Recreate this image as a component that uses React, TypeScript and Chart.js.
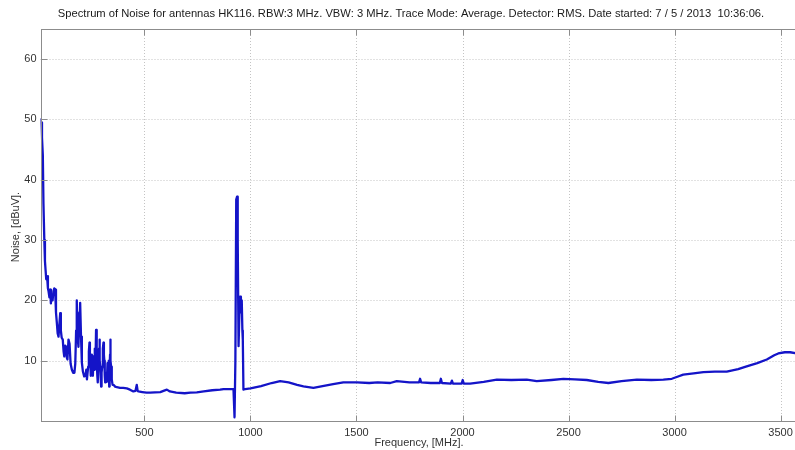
import React, { useEffect, useRef } from "react";
import { Chart, registerables } from "chart.js";

Chart.register(...registerables);

const TITLE =
  "Spectrum of Noise for antennas HK116. RBW:3 MHz. VBW: 3 MHz. Trace Mode: Average. Detector: RMS. Date started: 7 / 5 / 2013  10:36:06.";
const X_LABEL = "Frequency, [MHz].";
const Y_LABEL = "Noise, [dBuV].";

const X_TICKS = [500, 1000, 1500, 2000, 2500, 3000, 3500];
const Y_TICKS = [10, 20, 30, 40, 50, 60];

const FREQ = [
  10, 13, 17, 21, 24, 28, 31, 34, 37, 41, 45, 48, 52, 56, 59, 63, 67, 71, 75, 79,
  83, 87, 91, 95, 99, 103, 106, 110, 115, 119, 122, 126, 131, 134, 137, 142, 147, 152, 158, 164,
  170, 174, 178, 181, 183, 185, 189, 193, 195, 197, 201, 205, 210, 216, 222, 226, 229, 232, 235, 238,
  241, 243, 245, 247, 249, 252, 254, 257, 260, 263, 266, 269, 272, 274, 276, 278, 280, 282, 284, 286,
  288, 290, 292, 294, 296, 298, 301, 304, 307, 309, 311, 313, 315, 317, 320, 323, 326, 328, 330, 332,
  334, 336, 338, 339, 341, 343, 346, 350, 354, 362, 370, 385, 400, 417, 432, 448, 458, 464, 468, 472,
  490, 510, 527, 550, 575, 590, 606, 620, 650, 690, 717, 747, 780, 820, 857, 873, 900, 920, 925, 929,
  933, 937, 940, 944, 948, 951, 955, 959, 962, 964, 967, 975, 1000, 1050, 1100, 1140, 1180, 1220, 1250, 1297,
  1340, 1390, 1438, 1502, 1560, 1600, 1659, 1690, 1750, 1795, 1800, 1805, 1850, 1893, 1898, 1903, 1945, 1950, 1955, 1996,
  2001, 2006, 2036, 2100, 2162, 2230, 2303, 2350, 2420, 2476, 2530, 2586, 2640, 2688, 2750, 2822, 2890, 2947, 2987, 3010,
  3041, 3090, 3136, 3190, 3246, 3300, 3340, 3390, 3435, 3470, 3489, 3520, 3545, 3575, 3600,
];

const NOISE = [
  50.0, 49.5, 47, 44, 36, 30, 26.5, 25, 23.5, 24, 22, 21.5, 20.5, 21.8, 19.5, 21, 20, 21.5, 22, 21.8,
  18, 16.3, 14.5, 14, 16, 17.9, 15, 13.8, 13.5, 11.5, 10.7, 12.5, 12.3, 10.5, 10.2, 13.5, 12.8, 9.5, 8.5, 8.0,
  8.0, 9.5, 15, 20, 16, 14, 12.3, 18, 16.5, 19.6, 14, 9.7, 8.2, 7.4, 7.5, 8.5, 6.9, 8, 9, 11.5,
  13, 10.5, 10, 7.5, 8, 11, 9.5, 7.5, 10.7, 8.5, 12, 9, 15.1, 12, 10, 7.5, 6.4, 8.5, 9, 12,
  13.5, 10, 9, 7, 5.7, 8, 9, 12, 13, 11, 10, 7.5, 6.4, 7.5, 8, 6.5, 9.6, 8.5, 7, 10,
  5.7, 9, 11, 13.5, 10, 9, 6.9, 6.0, 6.0, 5.7, 5.6, 5.5, 5.5, 5.4, 5.2, 4.9, 5.0, 6.0, 5.0, 4.9,
  4.8, 4.7, 4.7, 4.75, 4.8, 5.0, 5.2, 4.9, 4.7, 4.6, 4.7, 4.75, 4.9, 5.1, 5.2, 5.3, 5.3, 5.3, 0.6, 10,
  36.7, 37.2, 30, 12.4, 18, 20.6, 18, 20, 15, 13.5, 5.2, 5.3, 5.4, 5.8, 6.3, 6.6, 6.4, 6.0, 5.75, 5.5,
  5.8, 6.1, 6.4, 6.4, 6.3, 6.4, 6.3, 6.6, 6.4, 6.4, 7.0, 6.4, 6.3, 6.3, 7.0, 6.3, 6.2, 6.7, 6.2, 6.2,
  6.8, 6.2, 6.2, 6.5, 6.85, 6.8, 6.85, 6.6, 6.8, 7.0, 6.9, 6.8, 6.5, 6.3, 6.6, 6.85, 6.8, 6.85, 7.0, 7.3,
  7.7, 7.9, 8.1, 8.2, 8.2, 8.6, 9.05, 9.6, 10.2, 10.9, 11.2, 11.4, 11.4, 11.2, 11.2,
];

const FONT = '"Liberation Sans", Arial, sans-serif';

const framePlugin = {
  id: "matlabFrame",
  beforeDatasetsDraw(chart: any) {
    const { ctx, chartArea: a, scales } = chart;
    ctx.save();
    ctx.strokeStyle = "#c4c4c4";
    ctx.lineWidth = 1;
    ctx.setLineDash([1, 2]);
    X_TICKS.forEach((v) => {
      const x = Math.round(scales.x.getPixelForValue(v)) + 0.5;
      ctx.beginPath();
      ctx.moveTo(x, a.top);
      ctx.lineTo(x, a.bottom);
      ctx.stroke();
    });
    Y_TICKS.forEach((v) => {
      const y = Math.round(scales.y.getPixelForValue(v)) + 0.5;
      ctx.beginPath();
      ctx.moveTo(a.left, y);
      ctx.lineTo(a.right, y);
      ctx.stroke();
    });
    ctx.restore();
  },
  afterDraw(chart: any) {
    const { ctx, chartArea: a, scales } = chart;
    ctx.save();
    ctx.strokeStyle = "#8c8c8c";
    ctx.lineWidth = 1;
    ctx.setLineDash([]);
    const L = Math.round(a.left) + 0.5;
    const R = Math.round(a.right) + 0.5;
    const T = Math.round(a.top) + 0.5;
    const B = Math.round(a.bottom) + 0.5;
    ctx.strokeRect(L, T, R - L, B - T);
    const tl = 6;
    X_TICKS.forEach((v) => {
      const x = Math.round(scales.x.getPixelForValue(v)) + 0.5;
      ctx.beginPath();
      ctx.moveTo(x, B);
      ctx.lineTo(x, B - tl);
      ctx.moveTo(x, T);
      ctx.lineTo(x, T + tl);
      ctx.stroke();
    });
    Y_TICKS.forEach((v) => {
      const y = Math.round(scales.y.getPixelForValue(v)) + 0.5;
      ctx.beginPath();
      ctx.moveTo(L, y);
      ctx.lineTo(L + tl, y);
      ctx.moveTo(R, y);
      ctx.lineTo(R - tl, y);
      ctx.stroke();
    });
    ctx.fillStyle = "#1a1a1a";
    ctx.font = `11.2px ${FONT}`;
    ctx.textAlign = "center";
    ctx.textBaseline = "middle";
    ctx.fillText(TITLE, 411, 14);
    ctx.font = `11px ${FONT}`;
    ctx.fillStyle = "#333";
    ctx.fillText(X_LABEL, 419, 443);
    ctx.translate(16, 227);
    ctx.rotate(-Math.PI / 2);
    ctx.fillText(Y_LABEL, 0, 0);
    ctx.restore();
  },
};

export default function App() {
  const ref = useRef<HTMLCanvasElement | null>(null);
  useEffect(() => {
    if (!ref.current) return;
    const points = FREQ.map((f, i) => ({ x: f, y: NOISE[i] }));
    const chart = new Chart(ref.current, {
      type: "line",
      data: {
        datasets: [
          {
            data: points,
            borderColor: "rgb(20,20,200)",
            borderWidth: 2.3,
            borderJoinStyle: "round",
            borderCapStyle: "round",
            pointRadius: 0,
            tension: 0,
            fill: false,
          },
        ],
      },
      options: {
        animation: false,
        responsive: false,
        maintainAspectRatio: false,
        layout: { padding: { top: 29, right: 8.2, left: 0, bottom: 0 } },
        plugins: {
          legend: { display: false },
          title: { display: false },
          tooltip: { enabled: false },
        },
        scales: {
          x: {
            type: "linear",
            min: 10,
            max: 3600,
            afterFit: (s: any) => {
              s.height = 29;
            },
            afterBuildTicks: (s: any) => {
              s.ticks = X_TICKS.map((v) => ({ value: v }));
            },
            grid: { display: false, drawTicks: false },
            border: { display: false },
            ticks: {
              autoSkip: false,
              maxRotation: 0,
              padding: 5,
              color: "#333",
              font: { family: FONT, size: 11 },
              callback: (v: any) => String(v),
            },
          },
          y: {
            type: "linear",
            min: 0,
            max: 65,
            afterFit: (s: any) => {
              s.width = 40.5;
            },
            afterBuildTicks: (s: any) => {
              s.ticks = Y_TICKS.map((v) => ({ value: v }));
            },
            grid: { display: false, drawTicks: false },
            border: { display: false },
            ticks: {
              padding: 4,
              color: "#333",
              font: { family: FONT, size: 11 },
              callback: (v: any) => String(v),
            },
          },
        },
      },
      plugins: [framePlugin],
    });
    return () => chart.destroy();
  }, []);
  return (
    <div
      style={{
        position: "absolute",
        left: 0,
        top: 0,
        width: 795,
        height: 450,
        overflow: "hidden",
        background: "#fff",
      }}
    >
      <canvas ref={ref} width={810} height={450} style={{ display: "block" }} />
    </div>
  );
}
